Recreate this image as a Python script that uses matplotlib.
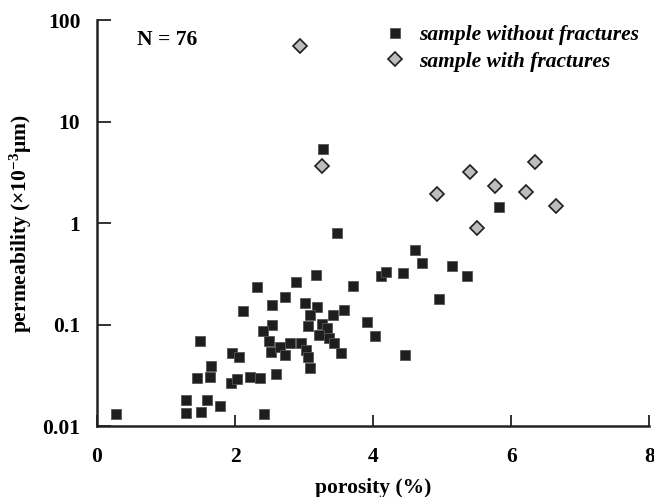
import matplotlib
matplotlib.use("Agg")
import matplotlib.pyplot as plt

plt.rcParams['font.family'] = ['Liberation Serif', 'DejaVu Serif']
plt.rcParams['font.weight'] = 'bold'
plt.rcParams['mathtext.fontset'] = 'custom'
plt.rcParams['mathtext.rm'] = 'Liberation Serif:bold'
plt.rcParams['mathtext.it'] = 'Liberation Serif:italic:bold'
plt.rcParams['mathtext.bf'] = 'Liberation Serif:bold'

# samples without fractures
por_nf = [0.28, 1.285, 1.285, 1.51, 1.60, 1.78, 1.49, 1.65, 1.45, 1.63,
          1.96, 2.06, 1.94, 2.03, 2.21, 2.36, 2.42, 2.59, 2.11, 2.32,
          2.54, 2.73, 2.54, 2.40, 2.49, 2.52, 2.65, 2.73, 3.47, 4.60,
          4.71, 5.14, 5.36, 4.95, 4.12, 4.18, 4.43, 3.17, 2.88, 3.71,
          3.02, 3.19, 3.08, 3.42, 3.58, 3.06, 3.26, 3.33, 3.21, 3.36,
          3.43, 3.91, 4.02, 3.54, 4.46, 2.80, 2.96, 3.03, 3.06, 3.09,
          3.27, 5.82]
perm_nf = [0.0132, 0.0182, 0.0137, 0.014, 0.0182, 0.016, 0.069, 0.0395, 0.0298, 0.031,
           0.0526, 0.048, 0.0267, 0.0296, 0.0305, 0.0298, 0.0133, 0.0327, 0.138, 0.237,
           0.157, 0.187, 0.099, 0.087, 0.070, 0.054, 0.060, 0.051, 0.80, 0.545,
           0.405, 0.384, 0.302, 0.179, 0.302, 0.333, 0.323, 0.311, 0.263, 0.244,
           0.164, 0.149, 0.1256, 0.1256, 0.1406, 0.0984, 0.102, 0.0927, 0.0797, 0.074,
           0.067, 0.108, 0.0774, 0.053, 0.0506, 0.067, 0.067, 0.0567, 0.0487, 0.038,
           5.38, 1.46]

# samples with fractures
por_f = [2.94, 3.26, 4.93, 5.41, 5.77, 6.35, 6.22, 6.65, 5.51]
perm_f = [56, 3.71, 1.97, 3.19, 2.33, 4.01, 2.06, 1.49, 0.897]

x_ticks = [0, 2, 4, 6, 8]
y_ticks = [0.01, 0.1, 1, 10, 100]
y_ticklabels = ['0.01', '0.1', '1', '10', '100']

fig = plt.figure(figsize=(6.54, 4.97), dpi=100)
ax = fig.add_axes([0.1483, 0.1419, 0.8445, 0.8169])

ax.plot(por_nf, perm_nf, linestyle='none', marker='s', markersize=6.5,
        markerfacecolor='#1e1e1e', markeredgecolor='#555555', markeredgewidth=0.6,
        label='sample without fractures')
ax.plot(por_f, perm_f, linestyle='none', marker='D', markersize=7,
        markerfacecolor='#bdbdbd', markeredgecolor='#1e1e1e', markeredgewidth=1.2,
        label='sample with fractures')

ax.set_yscale('log')
ax.set_xlim(0, 8)
ax.set_ylim(0.01, 100)
ax.set_xticks(x_ticks)
ax.set_xticklabels([str(v) for v in x_ticks])
ax.set_yticks(y_ticks)
ax.set_yticklabels(y_ticklabels)
ax.minorticks_off()

for s in ['top', 'right']:
    ax.spines[s].set_visible(False)
for s in ['left', 'bottom']:
    ax.spines[s].set_linewidth(1.8)
    ax.spines[s].set_color('#222222')

ax.tick_params(axis='y', direction='in', length=10, width=1.3, colors='#222222',
               labelsize=15.5, pad=12)
ax.tick_params(axis='x', direction='in', length=8, width=1.3, colors='#222222',
               labelsize=15.5, pad=15)
for lab in ax.get_xticklabels() + ax.get_yticklabels():
    lab.set_fontweight('bold')
    lab.set_color('black')

ax.set_xlabel('porosity (%)', fontsize=15.5, fontweight='bold', labelpad=8)
ax.set_ylabel(r'permeability (×10$^{-3}$μm)', fontsize=15.5, fontweight='bold', labelpad=6)

ax.text(0.072, 0.952, 'N = 76', transform=ax.transAxes, fontsize=15.5,
        fontweight='bold', ha='left', va='center')

leg = ax.legend(loc='upper right', bbox_to_anchor=(1.005, 1.02), frameon=False,
                prop={'family': 'Liberation Serif', 'style': 'italic',
                      'weight': 'bold', 'size': 15.5},
                handlelength=0.8, handletextpad=0.7, labelspacing=0.3,
                borderaxespad=0.2)

fig.savefig('out.png', dpi=100)
